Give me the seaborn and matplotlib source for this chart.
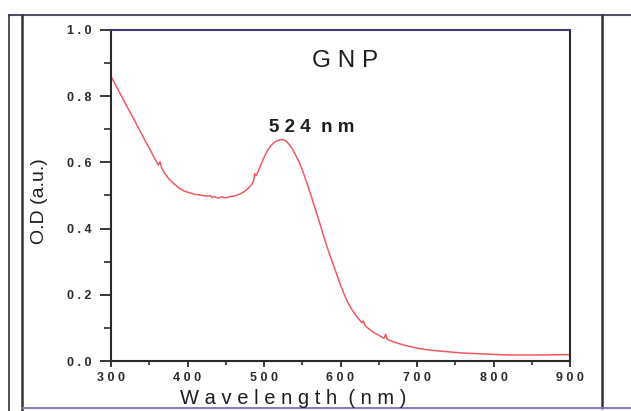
import numpy as np
import pandas as pd
import matplotlib
matplotlib.use("Agg")
import matplotlib.pyplot as plt
from matplotlib.lines import Line2D
from matplotlib.ticker import MultipleLocator, FuncFormatter
import seaborn as sns

# ── Data ─────────────────────────────────────────────────────────────────────
wavelength = [300, 305, 310, 315, 320, 325, 330, 335, 340, 345, 350, 355, 360,
              362, 364, 366, 370, 375, 380, 385, 390, 395, 400, 405, 410, 415,
              420, 425, 430, 432, 435, 440, 445, 450, 455, 460, 465, 470, 475,
              480, 484, 486, 488, 490, 495, 500, 505, 510, 515, 520, 524, 528,
              532, 536, 540, 545, 550, 555, 560, 565, 570, 575, 580, 585, 590,
              595, 600, 605, 610, 615, 620, 625, 628, 630, 632, 635, 640, 645,
              650, 655, 657, 659, 661, 665, 670, 680, 690, 700, 710, 720, 730,
              740, 750, 760, 780, 800, 820, 840, 860, 880, 900]
od = [0.860, 0.838, 0.816, 0.795, 0.773, 0.751, 0.730, 0.708, 0.686, 0.664,
      0.643, 0.621, 0.600, 0.592, 0.602, 0.585, 0.568, 0.552, 0.540, 0.530,
      0.521, 0.514, 0.510, 0.507, 0.503, 0.502, 0.500, 0.498, 0.499, 0.494,
      0.497, 0.492, 0.496, 0.493, 0.496, 0.498, 0.501, 0.506, 0.513, 0.523,
      0.534, 0.541, 0.566, 0.560, 0.588, 0.615, 0.638, 0.653, 0.663, 0.668,
      0.669, 0.666, 0.657, 0.645, 0.628, 0.606, 0.578, 0.545, 0.510, 0.474,
      0.438, 0.400, 0.362, 0.328, 0.295, 0.262, 0.230, 0.200, 0.175, 0.155,
      0.138, 0.124, 0.115, 0.121, 0.108, 0.101, 0.092, 0.084, 0.078, 0.071,
      0.069, 0.081, 0.066, 0.062, 0.057, 0.050, 0.044, 0.039, 0.035, 0.032,
      0.030, 0.028, 0.026, 0.024, 0.022, 0.020, 0.018, 0.018, 0.018, 0.019,
      0.019]
df = pd.DataFrame({"wavelength": wavelength, "od": od})

title_text = "G N P"
peak_text = "5 2 4  n m"
xlabel_text = "W a v e l e n g t h  ( n m )"
ylabel_text = "O.D (a.u.)"

# ── Style ────────────────────────────────────────────────────────────────────
sns.set_style("ticks")
plt.rcParams["font.family"] = ["Liberation Sans", "DejaVu Sans"]

W, H = 631, 411
fig = plt.figure(figsize=(W / 100, H / 100), dpi=100)
ax = fig.add_axes([111 / W, 1 - 361 / H, (570 - 111) / W, (361 - 30) / H])

sns.lineplot(data=df, x="wavelength", y="od", ax=ax, color="#f05a60", linewidth=1.1)

ax.set_xlim(300, 900)
ax.set_ylim(0, 1.0)
ax.xaxis.set_major_locator(MultipleLocator(100))
ax.xaxis.set_minor_locator(MultipleLocator(50))
ax.yaxis.set_major_locator(MultipleLocator(0.2))
ax.yaxis.set_minor_locator(MultipleLocator(0.1))

spaced = lambda s: " ".join(s)
ax.xaxis.set_major_formatter(FuncFormatter(lambda v, p: spaced(f"{v:.0f}")))
ax.yaxis.set_major_formatter(FuncFormatter(lambda v, p: spaced(f"{v:.1f}")))

for s in ax.spines.values():
    s.set_linewidth(1.5)
    s.set_color("#2a2a2a")
ax.spines["top"].set_color("#3a3a70")

ax.tick_params(axis="y", which="major", length=8, width=1.3, pad=6,
               labelsize=9, colors="#2a2a2a")
ax.tick_params(axis="y", which="minor", length=5, width=1.2, colors="#2a2a2a")
ax.tick_params(axis="x", which="major", length=4, width=1.3, pad=4,
               labelsize=9, colors="#2a2a2a")
ax.tick_params(axis="x", which="minor", length=3, width=1.2, colors="#2a2a2a")
for lab in ax.get_xticklabels() + ax.get_yticklabels():
    lab.set_fontweight("bold")

ax.set_xlabel("")
ax.set_ylabel("")
fig.text(293 / W, 1 - 398 / H, xlabel_text, ha="center", va="center",
         fontsize=14.5, color="#1e1e1e")
fig.text(40 / W, 1 - 201 / H, ylabel_text, ha="center", va="center",
         rotation=90, fontsize=14, color="#1e1e1e")

ax.text(0.51, 0.905, title_text, transform=ax.transAxes, ha="center",
        va="center", fontsize=17.5, color="#1e1e1e")
ax.text(0.438, 0.704, peak_text, transform=ax.transAxes, ha="center",
        va="center", fontsize=13.5, fontweight="bold", color="#1e1e1e")

# ── Scanned page frame ───────────────────────────────────────────────────────
def fline(x0, y0, x1, y1, color="#333333", lw=1.6):
    fig.add_artist(Line2D([x0 / W, x1 / W], [1 - y0 / H, 1 - y1 / H],
                          color=color, linewidth=lw))

fline(9, 15, 631, 15, color="#55506a", lw=1.5)
fline(9, 15, 9, 411, lw=1.2)
fline(22, 15, 22, 411, lw=1.8)
fline(602, 15, 602, 408, lw=1.8)
fline(22, 408, 631, 408, color="#8a78b8", lw=1.4)

fig.savefig("out.png", dpi=100)
